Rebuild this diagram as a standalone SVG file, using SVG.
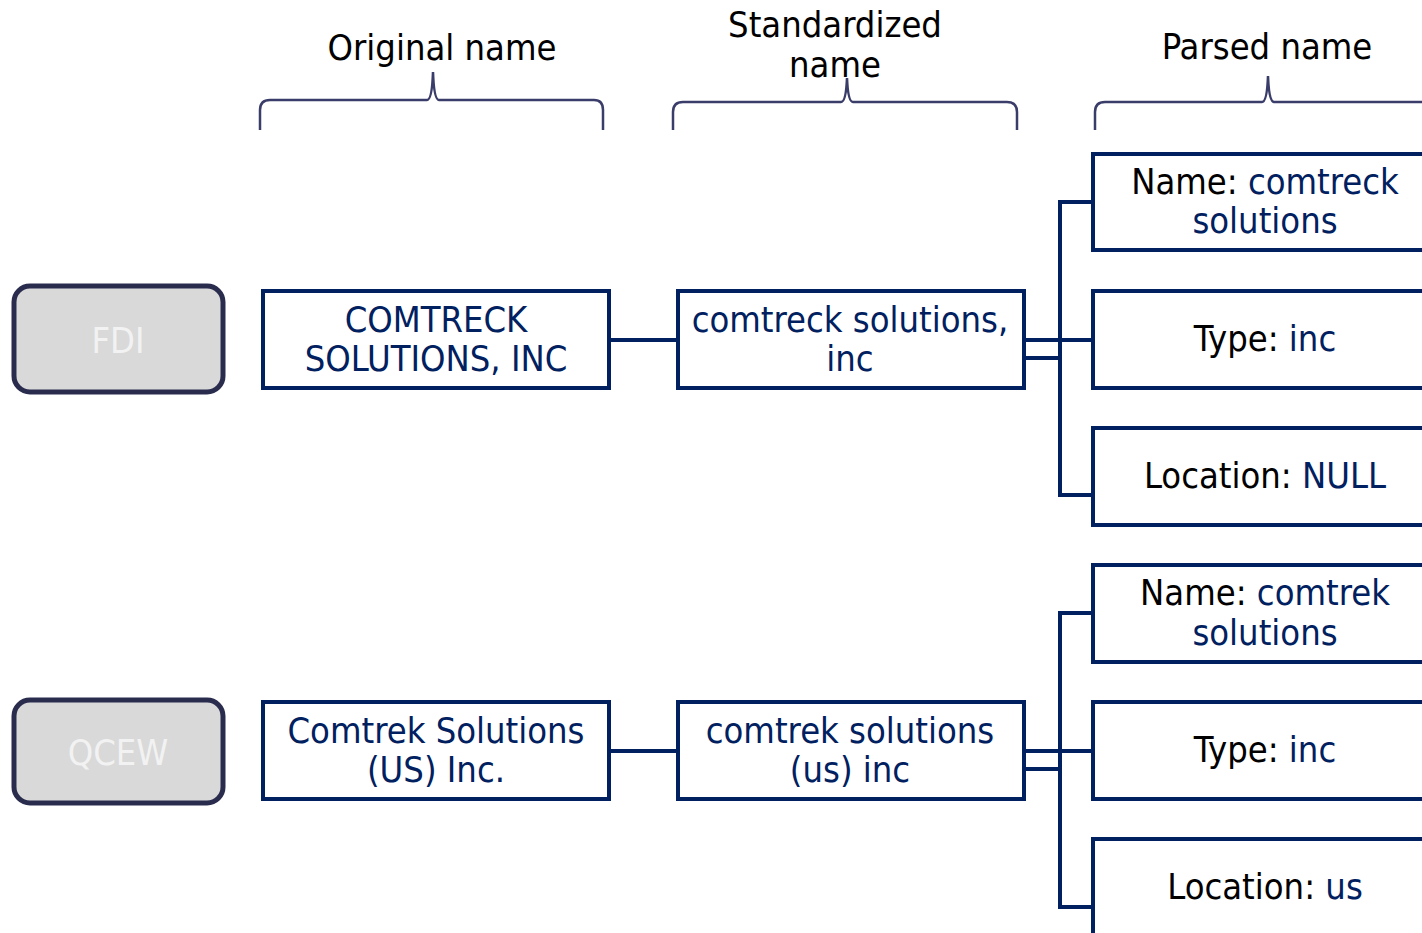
<svg xmlns="http://www.w3.org/2000/svg" width="1422" height="933" viewBox="0 0 1422 933">
<style>
.t{font-family:"DejaVu Sans Condensed","DejaVu Sans",Verdana,sans-serif;font-size:36px;text-anchor:middle}
.k{fill:#000}
.b{fill:#002060}
.box{fill:#fff;stroke:#002060;stroke-width:4}
.src{fill:#d9d9d9;stroke:#2a2c4e;stroke-width:5}
.srct{fill:#f2f2f2}
.br{fill:none;stroke:#3a3d6a;stroke-width:2.5}
.c{fill:none;stroke:#002060;stroke-width:4}
</style>
<rect width="1422" height="933" fill="#fff"/>
<g id="headers">
<text class="t k" x="442" y="60">Original name</text>
<text class="t k" x="835" y="37">Standardized</text>
<text class="t k" x="835" y="77">name</text>
<text class="t k" x="1267" y="59">Parsed name</text>
<path class="br" d="M260,130 L260,110 Q260,100 270,100 L427,100 Q432,100 433,72 Q434,100 439,100 L594,100 Q603,100 603,110 L603,130"/>
<path class="br" d="M673,130 L673,112 Q673,102 683,102 L841,102 Q846,102 847,78 Q848,102 853,102 L1007,102 Q1017,102 1017,112 L1017,130"/>
<path class="br" d="M1095,130 L1095,112 Q1095,102 1105,102 L1262,102 Q1267,102 1268,76 Q1269,102 1274,102 L1440,102"/>
</g>
<g id="connectors">
<path class="c" d="M610,340 H677"/>
<path class="c" d="M1024,340 H1092 M1024,358 H1060 M1092,202 H1060 V495 H1092"/>
<path class="c" d="M610,751 H677"/>
<path class="c" d="M1024,751 H1092 M1024,769 H1060 M1092,613 H1060 V907 H1092"/>
</g>
<g id="fdi">
<rect class="src" x="14" y="286" width="209" height="106" rx="16"/>
<text class="t srct" x="118" y="353">FDI</text>
</g>
<g id="qcew">
<rect class="src" x="14" y="700" width="209" height="103" rx="16"/>
<text class="t srct" x="118" y="765">QCEW</text>
</g>
<g id="orig1">
<rect class="box" x="263" y="291" width="346" height="97"/>
<text class="t b" x="436" y="332">COMTRECK</text>
<text class="t b" x="436" y="371">SOLUTIONS, INC</text>
</g>
<g id="std1">
<rect class="box" x="678" y="291" width="346" height="97"/>
<text class="t b" x="850" y="332">comtreck solutions,</text>
<text class="t b" x="850" y="371">inc</text>
</g>
<g id="name1">
<rect class="box" x="1093" y="154" width="360" height="96"/>
<text class="t" x="1265" y="194"><tspan class="k">Name: </tspan><tspan class="b">comtreck</tspan></text>
<text class="t b" x="1265" y="233">solutions</text>
</g>
<g id="type1">
<rect class="box" x="1093" y="291" width="360" height="97"/>
<text class="t" x="1265" y="351"><tspan class="k">Type: </tspan><tspan class="b">inc</tspan></text>
</g>
<g id="loc1">
<rect class="box" x="1093" y="428" width="360" height="97"/>
<text class="t" x="1265" y="488"><tspan class="k">Location: </tspan><tspan class="b">NULL</tspan></text>
</g>
<g id="orig2">
<rect class="box" x="263" y="702" width="346" height="97"/>
<text class="t b" x="436" y="743">Comtrek Solutions</text>
<text class="t b" x="436" y="782">(US) Inc.</text>
</g>
<g id="std2">
<rect class="box" x="678" y="702" width="346" height="97"/>
<text class="t b" x="850" y="743">comtrek solutions</text>
<text class="t b" x="850" y="782">(us) inc</text>
</g>
<g id="name2">
<rect class="box" x="1093" y="565" width="360" height="97"/>
<text class="t" x="1265" y="605"><tspan class="k">Name: </tspan><tspan class="b">comtrek</tspan></text>
<text class="t b" x="1265" y="645">solutions</text>
</g>
<g id="type2">
<rect class="box" x="1093" y="702" width="360" height="97"/>
<text class="t" x="1265" y="762"><tspan class="k">Type: </tspan><tspan class="b">inc</tspan></text>
</g>
<g id="loc2">
<rect class="box" x="1093" y="839" width="360" height="120"/>
<text class="t" x="1265" y="899"><tspan class="k">Location: </tspan><tspan class="b">us</tspan></text>
</g>
</svg>
